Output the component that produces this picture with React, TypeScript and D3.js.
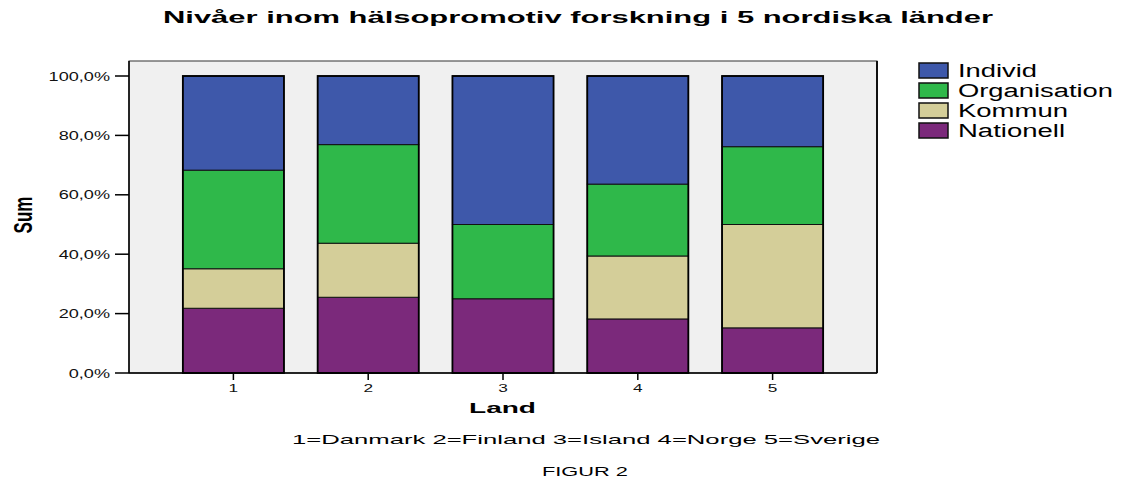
import React from "react";
import * as d3 from "d3";

const categories = ["1", "2", "3", "4", "5"];
const seriesNames = ["Nationell", "Kommun", "Organisation", "Individ"];
const nationell = [21.8, 25.5, 25.0, 18.2, 15.2];
const kommun = [13.3, 18.2, 0, 21.2, 34.8];
const organisation = [33.2, 33.2, 25.0, 24.2, 26.2];
const individ = [31.7, 23.1, 50.0, 36.4, 23.8];
const yTicks = [0, 20, 40, 60, 80, 100];
const legendOrder = ["Individ", "Organisation", "Kommun", "Nationell"];
const legendWidths: Record<string, number> = { Individ: 79, Organisation: 155, Kommun: 110, Nationell: 107 };
const colors: Record<string, string> = {
  Individ: "#3e58aa",
  Organisation: "#2fb84a",
  Kommun: "#d4ce99",
  Nationell: "#7b297b",
};

export default function App() {
  const W = 1121, H = 482;
  const frame = { x0: 129, x1: 877, y0: 61, y1: 373 };
  const x = d3.scaleBand<string>().domain(categories).range([166, 840]).paddingInner(0.25).paddingOuter(0.125);
  const y = d3.scaleLinear().domain([0, 100]).range([373, 76]);
  const rows = categories.map((c, i) => ({
    cat: c,
    Nationell: nationell[i],
    Kommun: kommun[i],
    Organisation: organisation[i],
    Individ: individ[i],
  }));
  const stack = d3.stack<any>().keys(seriesNames)(rows);
  const sx = 1.5;
  const font = "Liberation Sans, Arial, sans-serif";

  return (
    <svg width={W} height={H} style={{ position: "absolute", left: 0, top: 0, background: "#fff" }} fontFamily={font}>
      <rect x={0} y={0} width={W} height={H} fill="#fff" />
      <text x={163} y={23} fontSize={16} fontWeight="bold" textLength={830} lengthAdjust="spacingAndGlyphs">
        Nivåer inom hälsopromotiv forskning i 5 nordiska länder
      </text>
      <rect x={frame.x0} y={frame.y0} width={frame.x1 - frame.x0} height={frame.y1 - frame.y0} fill="#f0f0f0" stroke="#333" strokeWidth={1} />
      <line x1={frame.x1} x2={frame.x1} y1={frame.y0} y2={frame.y1} stroke="#111" strokeWidth={2} />
      {stack.map((s) =>
        s.map((d, i) => {
          const h = y(d[0]) - y(d[1]);
          if (h <= 0) return null;
          return (
            <rect
              key={s.key + i}
              x={x(categories[i])!}
              y={y(d[1])}
              width={x.bandwidth()}
              height={h}
              fill={colors[s.key]}
              stroke="#111"
              strokeWidth={1}
            />
          );
        })
      )}
      {categories.map((c) => (
        <rect key={"o" + c} x={x(c)!} y={y(100)} width={x.bandwidth()} height={y(0) - y(100)} fill="none" stroke="#000" strokeWidth={1.8} />
      ))}
      <line x1={frame.x0} x2={frame.x0} y1={frame.y0} y2={frame.y1} stroke="#000" strokeWidth={1.5} />
      <line x1={frame.x0} x2={frame.x1} y1={frame.y1} y2={frame.y1} stroke="#000" strokeWidth={1.5} />
      {yTicks.map((t) => (
        <g key={"yt" + t}>
          <line x1={115} x2={frame.x0} y1={y(t)} y2={y(t)} stroke="#000" strokeWidth={1.5} />
          <text transform={`translate(110,${y(t) + 4.5}) scale(1.45,1)`} fontSize={12.5} textAnchor="end" fill="#111">
            {d3.format(".1f")(t).replace(".", ",") + "%"}
          </text>
        </g>
      ))}
      {categories.map((c) => {
        const cx = x(c)! + x.bandwidth() / 2;
        return (
          <g key={"xt" + c}>
            <line x1={cx} x2={cx} y1={frame.y1} y2={380} stroke="#000" strokeWidth={1.5} />
            <text transform={`translate(${cx},${392}) scale(${sx},1)`} fontSize={11.5} textAnchor="middle" fill="#111">
              {c}
            </text>
          </g>
        );
      })}
      <text transform={`translate(32,215) scale(${sx},1) rotate(-90)`} fontSize={17} fontWeight="bold" textAnchor="middle">
        Sum
      </text>
      <text x={469} y={413} fontSize={15} fontWeight="bold" textLength={67} lengthAdjust="spacingAndGlyphs">
        Land
      </text>
      <text x={292} y={444} fontSize={13.5} textLength={588} lengthAdjust="spacingAndGlyphs">
        1=Danmark 2=Finland 3=Island 4=Norge 5=Sverige
      </text>
      <text x={542} y={476} fontSize={13.5} textLength={86} lengthAdjust="spacingAndGlyphs">
        FIGUR 2
      </text>
      {legendOrder.map((k, i) => (
        <g key={"lg" + k}>
          <rect x={919} y={63 + i * 20} width={29} height={15} fill={colors[k]} stroke="#111" strokeWidth={1.5} />
          <text x={958} y={77 + i * 20} fontSize={18} textLength={legendWidths[k]} lengthAdjust="spacingAndGlyphs">
            {k}
          </text>
        </g>
      ))}
    </svg>
  );
}
